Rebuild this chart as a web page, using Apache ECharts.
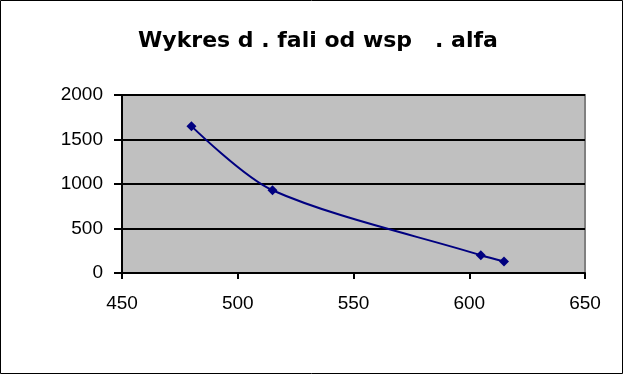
<!DOCTYPE html>
<html>
<head>
<meta charset="utf-8">
<script src="https://cdn.jsdelivr.net/npm/echarts@6/dist/echarts.min.js"></script>
<style>
html,body{margin:0;padding:0;background:#fff;}
#c{width:625px;height:375px;}
</style>
</head>
<body>
<div id="c"></div>
<script>
const titleText = "Wykres d . fali od wsp   . alfa";
const xValues = [480, 515, 605, 615];
const yValues = [1650, 930, 200, 130];
const xTicks = [450, 500, 550, 600, 650];
const yTicks = [0, 500, 1000, 1500, 2000];

const chart = echarts.init(document.getElementById('c'), null, {renderer: 'canvas'});
const data = xValues.map((x, i) => [x, yValues[i]]);
const labelFont = {color: '#000', fontFamily: '"Liberation Sans", Arial', fontSize: 19};
chart.setOption({
  animation: false,
  backgroundColor: '#fff',
  graphic: [
    {type: 'rect', shape: {x: 0.5, y: 0.5, width: 622, height: 373}, style: {fill: null, stroke: '#000', lineWidth: 1}, z: -10},
    {type: 'rect', shape: {x: 122, y: 95, width: 463, height: 178}, style: {fill: '#C0C0C0', stroke: '#808080', lineWidth: 2}, z: -5}
  ],
  title: {
    text: titleText,
    left: 313, top: 25, textAlign: 'center',
    textStyle: {fontFamily: '"DejaVu Sans"', fontWeight: 'bold', fontSize: 22, color: '#000'}
  },
  grid: {left: 122, top: 95, width: 463, height: 178, show: false},
  xAxis: {
    type: 'value', min: xTicks[0], max: xTicks[xTicks.length - 1], interval: 50,
    axisLine: {show: true, onZero: false, lineStyle: {color: '#000', width: 2}},
    axisTick: {show: true, length: 6, lineStyle: {color: '#000', width: 2}},
    axisLabel: Object.assign({margin: 21, formatter: v => String(v)}, labelFont),
    splitLine: {show: false}
  },
  yAxis: {
    type: 'value', min: yTicks[0], max: yTicks[yTicks.length - 1], interval: 500,
    axisLine: {show: true, onZero: false, lineStyle: {color: '#000', width: 2}},
    axisTick: {show: true, length: 8, lineStyle: {color: '#000', width: 2}},
    axisLabel: Object.assign({margin: 19, formatter: v => String(v)}, labelFont),
    splitLine: {show: true, lineStyle: {color: '#000', width: 2}}
  },
  series: [{
    type: 'line',
    data: data,
    smooth: 0.3,
    symbol: 'diamond',
    symbolSize: 10,
    itemStyle: {color: '#000080'},
    lineStyle: {color: '#000080', width: 2}
  }]
});
</script>
</body>
</html>
